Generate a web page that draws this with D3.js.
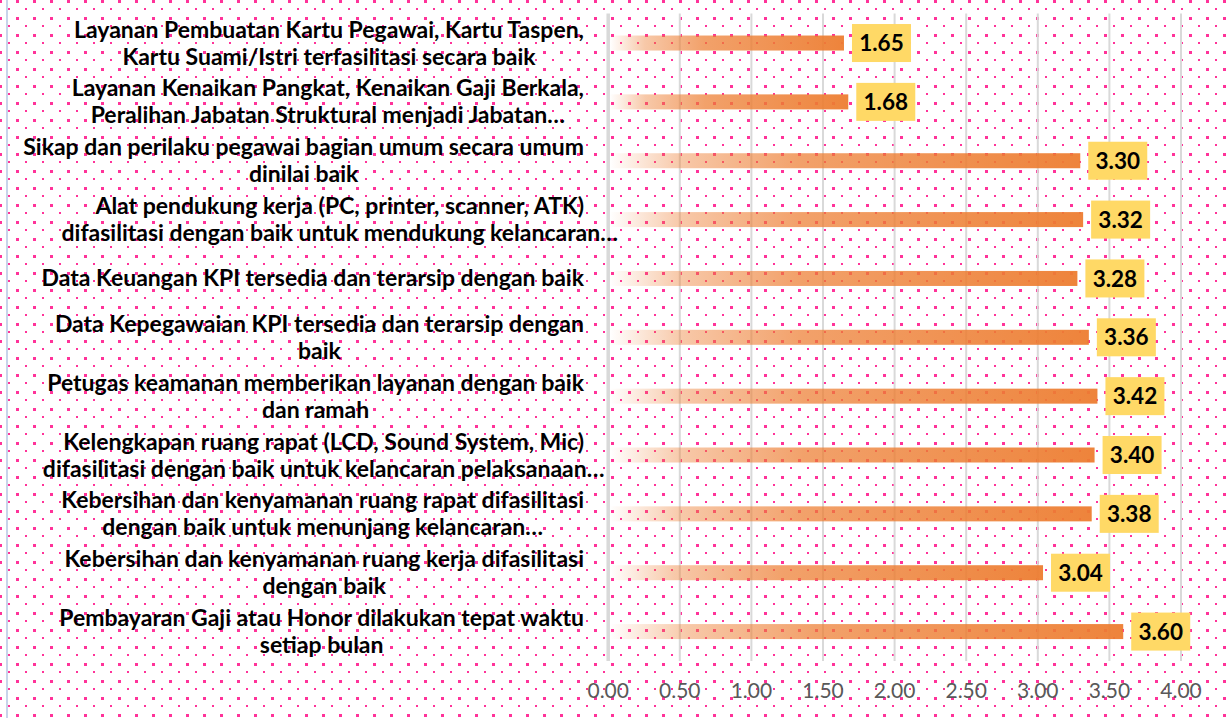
<!DOCTYPE html>
<html>
<head>
<meta charset="utf-8">
<script src="https://cdn.jsdelivr.net/npm/d3@7"></script>
<style>
  body { margin: 0; background: #fff; }
  svg { display: block; font-family: Lato, "Open Sans", sans-serif; }
</style>
</head>
<body>
<svg id="chart" width="1228" height="718"></svg>
<script>
var categories = [
  ["Layanan Pembuatan Kartu Pegawai, Kartu Taspen,", "Kartu Suami/Istri terfasilitasi secara baik"],
  ["Layanan Kenaikan Pangkat, Kenaikan Gaji Berkala,", "Peralihan Jabatan Struktural menjadi Jabatan…"],
  ["Sikap dan perilaku pegawai bagian umum secara umum", "dinilai baik"],
  ["Alat pendukung kerja (PC, printer, scanner, ATK)", "difasilitasi dengan baik untuk mendukung kelancaran…"],
  ["Data Keuangan KPI tersedia dan terarsip dengan baik"],
  ["Data Kepegawaian KPI tersedia dan terarsip dengan", "baik"],
  ["Petugas keamanan memberikan layanan dengan baik", "dan ramah"],
  ["Kelengkapan ruang rapat (LCD, Sound System, Mic)", "difasilitasi dengan baik untuk kelancaran pelaksanaan…"],
  ["Kebersihan dan kenyamanan ruang rapat difasilitasi", "dengan baik untuk menunjang kelancaran…"],
  ["Kebersihan dan kenyamanan ruang kerja difasilitasi", "dengan baik"],
  ["Pembayaran Gaji atau Honor dilakukan tepat waktu", "setiap bulan"]
]
var scores = [1.65, 1.68, 3.30, 3.32, 3.28, 3.36, 3.42, 3.40, 3.38, 3.04, 3.60]
var xTicks = [0, 0.5, 1, 1.5, 2, 2.5, 3, 3.5, 4]

var W = 1228, H = 718
var plot = {left: 607.7, right: 1180.5, top: 13.6, bottom: 661}
var labelRight = 584

var svg = d3.select("#chart")
var defs = svg.append("defs")

// pink dotted background
var pat = defs.append("pattern")
  .attr("id", "dots")
  .attr("patternUnits", "userSpaceOnUse")
  .attr("width", 17).attr("height", 17)
  .attr("x", 16).attr("y", 0)
pat.append("rect").attr("width", 17).attr("height", 17).attr("fill", "#fff")
pat.append("rect").attr("x", 0).attr("y", 0).attr("width", 3).attr("height", 3).attr("fill", "#ff3399")
pat.append("rect").attr("x", 9).attr("y", 8).attr("width", 2).attr("height", 2).attr("fill", "#ff3399")

var grad = defs.append("linearGradient").attr("id", "barGrad")
  .attr("x1", "0%").attr("x2", "100%").attr("y1", "0%").attr("y2", "0%")
;[[0, 0], [0.15, 0.42], [0.4, 0.72], [1, 0.95]].forEach(s => {
  grad.append("stop").attr("offset", s[0]).attr("stop-color", "#ed7d31").attr("stop-opacity", s[1])
})

svg.append("rect").attr("width", W).attr("height", H).attr("fill", "url(#dots)")
svg.append("rect").attr("x", 6).attr("y", 0).attr("width", 2).attr("height", H).attr("fill", "#c8d4ea")

var ids = categories.map((c, i) => "c" + i)

var x = d3.scaleLinear()
  .domain([0, 4])
  .range([plot.left, plot.right])

var y = d3.scaleBand()
  .domain(ids)
  .range([plot.top, plot.bottom])
  .paddingInner(0.745)
  .paddingOuter(0.3725)

// grid + tick labels
var axis = svg.append("g")
  .attr("transform", "translate(0," + plot.bottom + ")")
  .call(d3.axisBottom(x)
    .tickValues(xTicks)
    .tickFormat(d3.format(".2f"))
    .tickSizeInner(-(plot.bottom - plot.top))
    .tickSizeOuter(0)
    .tickPadding(22))

axis.select(".domain").remove()
axis.selectAll(".tick line")
  .attr("stroke", "#d9d9d9")
  .attr("stroke-width", (d, i) => i == 0 ? 3.5 : 2)
axis.selectAll(".tick text")
  .attr("fill", "#595959")
  .attr("font-size", 21)
  .attr("font-family", "Lato, 'Open Sans', sans-serif")

// bars
var bh = y.bandwidth()
svg.append("g").selectAll("rect")
  .data(scores)
  .join("rect")
  .attr("x", x(0) + 2)
  .attr("y", (d, i) => y(ids[i]))
  .attr("width", d => x(d) - x(0) - 2)
  .attr("height", bh)
  .attr("fill", "url(#barGrad)")

// value boxes
var boxW = 59, boxH = 38
var vals = svg.append("g").selectAll("g")
  .data(scores)
  .join("g")
  .attr("transform", (d, i) => "translate(" + (x(d) + 8) + "," + (y(ids[i]) + bh / 2) + ")")
vals.append("rect")
  .attr("y", -boxH / 2)
  .attr("width", boxW)
  .attr("height", boxH)
  .attr("fill", "#ffd966")
vals.append("text")
  .attr("x", boxW / 2)
  .attr("dy", "0.36em")
  .attr("text-anchor", "middle")
  .attr("font-size", 22.5)
  .attr("font-weight", "bold")
  .attr("fill", "#000")
  .text(d => d.toFixed(2))

// category labels: size the font so the widest line matches the original
var probe = svg.append("text")
  .attr("font-weight", "bold")
  .attr("font-size", 20)
  .text(categories[2][0])
var fs = 20 * 561 / probe.node().getComputedTextLength()
probe.remove()
var lineGap = 27

var labels = svg.append("g")
categories.forEach((lines, i) => {
  var cy = y(ids[i]) + bh / 2
  var g = labels.append("g")
  var ts = lines.map((l, j) => g.append("text")
    .attr("font-weight", "bold")
    .attr("font-size", fs)
    .attr("fill", "#000")
    .attr("text-anchor", "middle")
    .attr("dy", "0.35em")
    .attr("y", cy + (j - (lines.length - 1) / 2) * lineGap)
    .text(l))
  var maxW = d3.max(ts.filter((t, j) => !lines[j].endsWith("…")).map(t => t.node().getComputedTextLength()))
  ts.forEach(t => t.attr("x", labelRight - maxW / 2))
})
</script>
</body>
</html>
